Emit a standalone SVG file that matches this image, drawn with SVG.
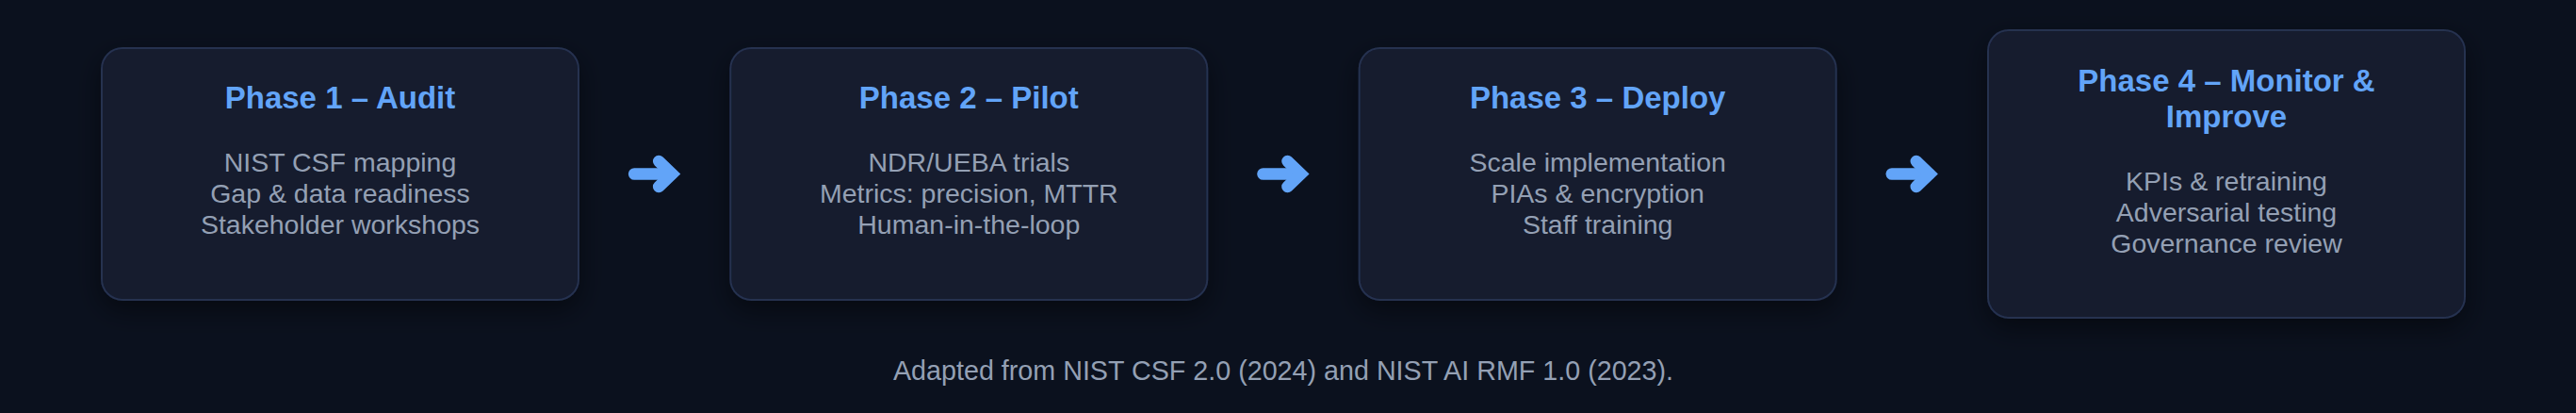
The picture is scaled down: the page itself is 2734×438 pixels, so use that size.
<svg xmlns="http://www.w3.org/2000/svg" width="2734" height="438" viewBox="0 0 2734 438">
<defs>
<style>
.box{fill:#131a2d;stroke:#25314f;stroke-width:2;filter:url(#sh)}
.ttl{font-family:"Liberation Sans",Arial,sans-serif;font-weight:bold;font-size:33px;fill:#62a4f8;text-anchor:middle}
.bd{font-family:"Liberation Sans",Arial,sans-serif;font-size:28.5px;fill:#94a0b4;text-anchor:middle}
.cap{font-family:"Liberation Sans",Arial,sans-serif;font-size:28.7px;fill:#94a0b4;text-anchor:middle}
.arr{fill:none;stroke:#62a4f8;stroke-width:12.6;stroke-linecap:round}
</style>
<filter id="sh" x="-20%" y="-20%" width="140%" height="150%">
<feDropShadow dx="0" dy="10" stdDeviation="14" flood-color="#000" flood-opacity="0.45"/>
</filter>
<g id="arrow">
<path class="arr" d="M-21.5 0H18"/>
<path class="arr" d="M4.5 -13.5L18.5 0L4.5 13.5" stroke-linejoin="miter"/>
</g>
</defs>
<rect width="2734" height="438" fill="#0b111e"/>
<g id="connectors">
<use href="#arrow" x="694.7" y="184.5"/>
<use href="#arrow" x="1362" y="184.5"/>
<use href="#arrow" x="2029.3" y="184.5"/>
</g>
<g id="phase1">
<rect class="box" x="108" y="51" width="506" height="267" rx="22"/>
<text class="ttl" x="361" y="115">Phase 1 – Audit</text>
<text class="bd" x="361" y="182.3">NIST CSF mapping</text>
<text class="bd" x="361" y="215">Gap &amp; data readiness</text>
<text class="bd" x="361" y="247.5">Stakeholder workshops</text>
</g>
<g id="phase2">
<rect class="box" x="775.3" y="51" width="506" height="267" rx="22"/>
<text class="ttl" x="1028.3" y="115">Phase 2 – Pilot</text>
<text class="bd" x="1028.3" y="182.3">NDR/UEBA trials</text>
<text class="bd" x="1028.3" y="215">Metrics: precision, MTTR</text>
<text class="bd" x="1028.3" y="247.5">Human-in-the-loop</text>
</g>
<g id="phase3">
<rect class="box" x="1442.7" y="51" width="506" height="267" rx="22"/>
<text class="ttl" x="1695.7" y="115">Phase 3 – Deploy</text>
<text class="bd" x="1695.7" y="182.3">Scale implementation</text>
<text class="bd" x="1695.7" y="215">PIAs &amp; encryption</text>
<text class="bd" x="1695.7" y="247.5">Staff training</text>
</g>
<g id="phase4">
<rect class="box" x="2110" y="32" width="506" height="305" rx="22"/>
<text class="ttl" x="2363" y="96.7">Phase 4 – Monitor &amp;</text>
<text class="ttl" x="2363" y="135">Improve</text>
<text class="bd" x="2363" y="201.7">KPIs &amp; retraining</text>
<text class="bd" x="2363" y="235">Adversarial testing</text>
<text class="bd" x="2363" y="267.5">Governance review</text>
</g>
<g id="caption">
<text class="cap" x="1362" y="403.3">Adapted from NIST CSF 2.0 (2024) and NIST AI RMF 1.0 (2023).</text>
</g>
</svg>
